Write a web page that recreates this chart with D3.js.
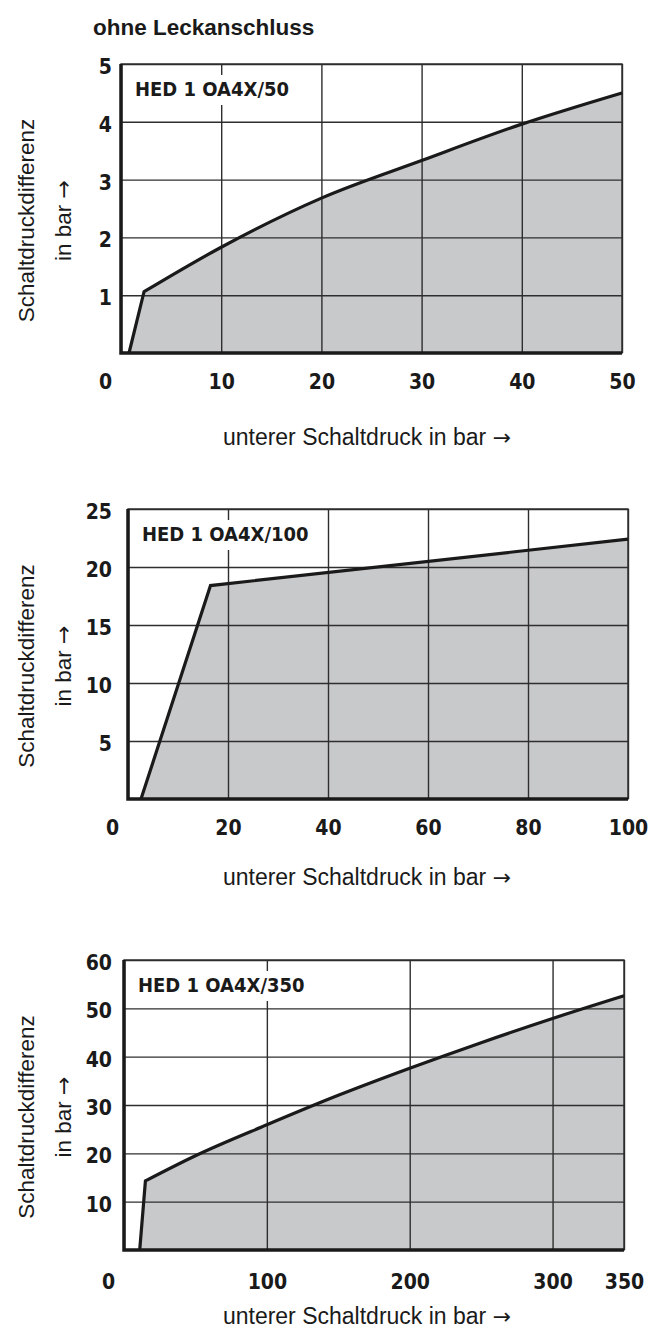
<!DOCTYPE html>
<html>
<head>
<meta charset="utf-8">
<script src="https://cdnjs.cloudflare.com/ajax/libs/d3/7.8.5/d3.min.js"></script>
<style>
  body { margin: 0; background: #fff; }
  .plain { font-family: "Liberation Sans", Arial, Helvetica, sans-serif; fill: #1a1a1a; }
  .arrow { font-family: "DejaVu Sans", sans-serif; }
  .cond { font-family: "Liberation Sans Narrow", "DejaVu Sans Condensed", sans-serif; font-weight: bold; fill: #1a1a1a; }
</style>
</head>
<body>
<svg width="662" height="1331"></svg>
<script>
var heading = "ohne Leckanschluss";
var panelNames = ["HED 1 OA4X/50", "HED 1 OA4X/100", "HED 1 OA4X/350"];
var xTitle = "unterer Schaltdruck in bar";
var yTitle = ["Schaltdruckdifferenz", "in bar"];
var arrow = "\u2192";

// HED 1 OA4X/50
var xTicks50 = [0, 10, 20, 30, 40, 50];
var yTicks50 = [1, 2, 3, 4, 5];
var press50 = [0.8, 2.3, 10, 20, 30, 40, 50];
var diff50 = [0, 1.06, 1.83, 2.68, 3.33, 3.96, 4.5];

// HED 1 OA4X/100
var xTicks100 = [0, 20, 40, 60, 80, 100];
var yTicks100 = [5, 10, 15, 20, 25];
var press100 = [2.6, 16.5, 100];
var diff100 = [0, 18.4, 22.4];

// HED 1 OA4X/350
var xTicks350 = [0, 100, 200, 300, 350];
var yTicks350 = [10, 20, 30, 40, 50, 60];
var press350 = [11, 15, 50, 100, 150, 200, 250, 300, 350];
var diff350 = [0, 14.3, 19.5, 25.9, 32.0, 37.6, 42.9, 47.9, 52.6];

var layout = [
  { left: 121, right: 622, top: 64, bottom: 353, tickPad: 21, titleY: 445 },
  { left: 128, right: 628, top: 509, bottom: 799, tickPad: 21, titleY: 885 },
  { left: 124, right: 624, top: 960, bottom: 1250, tickPad: 24, titleY: 1324 }
];

var svg = d3.select("svg");

svg.append("text")
    .attr("class", "plain")
    .attr("x", 93)
    .attr("y", 35)
    .style("font-size", "22.5px")
    .style("font-weight", "bold")
    .text(heading);

drawPanel(0, press50, diff50, xTicks50, yTicks50);
drawPanel(1, press100, diff100, xTicks100, yTicks100);
drawPanel(2, press350, diff350, xTicks350, yTicks350);

function drawPanel(i, xs, ys, xTicks, yTicks) {
  var L = layout[i];
  var xMax = d3.max(xTicks), yMax = d3.max(yTicks);

  var x = d3.scaleLinear().domain([0, xMax]).range([L.left, L.right]);
  var y = d3.scaleLinear().domain([0, yMax]).range([L.bottom, L.top]);

  var g = svg.append("g");

  // shaded area under the curve; first segment is straight, rest is smooth
  var pts = xs.map(function(v, j) { return [v, ys[j]]; });
  var smooth = d3.line()
      .x(function(d) { return x(d[0]); })
      .y(function(d) { return y(d[1]); })
      .curve(d3.curveMonotoneX)(pts.slice(1));
  var linePath = "M" + x(pts[0][0]) + "," + y(pts[0][1]) + "L" + smooth.slice(1);
  var areaPath = linePath + "L" + x(xMax) + "," + y(0) + "Z";

  g.append("path")
      .attr("d", areaPath)
      .attr("fill", "#c8c9cb");

  // grid via axes
  var xAxis = g.append("g")
      .attr("transform", "translate(0," + L.bottom + ")")
      .call(d3.axisBottom(x)
        .tickValues(xTicks)
        .tickFormat(d3.format("d"))
        .tickSize(-(L.bottom - L.top))
        .tickPadding(L.tickPad));

  var yAxis = g.append("g")
      .attr("transform", "translate(" + L.left + ",0)")
      .call(d3.axisLeft(y)
        .tickValues(yTicks)
        .tickFormat(d3.format("d"))
        .tickSize(-(L.right - L.left))
        .tickPadding(L.left - 112));

  [xAxis, yAxis].forEach(function(a) {
    a.attr("font-family", null).attr("font-size", null);
    a.select(".domain").remove();
    a.selectAll(".tick line")
        .attr("stroke", "#2e2e2e")
        .attr("stroke-width", 1.4);
    a.selectAll(".tick text")
        .attr("class", "cond")
        .attr("fill", null)
        .style("font-size", "21px");
  });

  yAxis.selectAll(".tick text").attr("dy", "0.45em");

  // the zero label sits left of the corner
  xAxis.selectAll(".tick text")
      .filter(function(d) { return d === 0; })
      .attr("x", -16);

  // white box behind the type name
  var box = g.append("rect")
      .attr("fill", "#fff");
  var lbl = g.append("text")
      .attr("class", "cond")
      .attr("x", L.left + 14)
      .attr("y", L.top + 32)
      .style("font-size", "20px")
      .text(panelNames[i]);
  var bb = lbl.node().getBBox();
  box.attr("x", L.left + 3)
      .attr("y", L.top + 11)
      .attr("width", bb.x + bb.width + 6 - (L.left + 3))
      .attr("height", 30);

  // frame: thin top/right, heavy left/bottom
  g.append("rect")
      .attr("x", L.left)
      .attr("y", L.top)
      .attr("width", L.right - L.left)
      .attr("height", L.bottom - L.top)
      .attr("fill", "none")
      .attr("stroke", "#2e2e2e")
      .attr("stroke-width", 1.4);

  g.append("path")
      .attr("d", linePath)
      .attr("fill", "none")
      .attr("stroke", "#1a1a1a")
      .attr("stroke-width", 3.2)
      .attr("stroke-linejoin", "miter");

  g.append("path")
      .attr("d", "M" + L.left + "," + L.top + "V" + L.bottom + "H" + L.right)
      .attr("fill", "none")
      .attr("stroke", "#1a1a1a")
      .attr("stroke-width", 3.5);

  // axis titles
  var xt = g.append("text")
      .attr("class", "plain")
      .attr("x", 367)
      .attr("y", L.titleY)
      .attr("text-anchor", "middle")
      .style("font-size", "23px")
      .text(xTitle + " ");
  xt.append("tspan")
      .attr("class", "arrow")
      .style("font-size", "22px")
      .text(arrow);

  var cy = (L.top + L.bottom) / 2 + 12;
  g.selectAll(".ytitle")
    .data(yTitle)
    .enter().append("text")
      .attr("class", "plain ytitle")
      .attr("text-anchor", "middle")
      .attr("transform", function(d, j) { return "translate(" + (j ? 71 : 34) + "," + cy + ") rotate(-90)"; })
      .style("font-size", "22.5px")
      .text(function(d) { return d; })
    .filter(function(d, j) { return j === 1; })
    .text(function(d) { return d + " "; })
    .append("tspan")
      .attr("class", "arrow")
      .style("font-size", "22px")
      .text(arrow);
}
</script>
</body>
</html>
